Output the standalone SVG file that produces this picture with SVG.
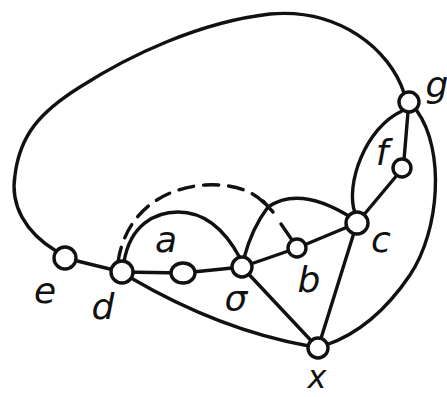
<svg xmlns="http://www.w3.org/2000/svg" width="447" height="397" viewBox="0 0 447 397">
<style>
.e{fill:none;stroke:#111;stroke-width:3.4;stroke-linecap:round;stroke-linejoin:round}
.d{stroke-dasharray:15 10}
.n{fill:#fff;stroke:#111;stroke-width:3.4}
.t{font-family:"DejaVu Sans",sans-serif;font-style:oblique;font-size:36px;fill:#111;text-anchor:middle}
</style>
<rect width="447" height="397" fill="#fff"/>
<g id="connectors">
<path class="e" d="M56 251 C25 232 10 205 15 175 C20 135 40 112 80 87 C130 55 200 22 270 14 C340 8 390 50 404 93"/>
<path class="e" d="M65 258 L122 272"/>
<path class="e" d="M122 272 L183 273 L242 267"/>
<path class="e" d="M242 267 L297 248 L357 223"/>
<path class="e" d="M124 262 C130 225 155 212 178 212 C205 212 225 230 240 258"/>
<path class="e d" d="M118 262 C125 215 160 188 205 185 C240 183 258 195 268 207"/>
<path class="e" d="M244 258 Q252 228 268 207 Q300 185 352 218"/>
<path class="e" d="M263 201 L273 212"/>
<path class="e" d="M281 224 L292 240"/>
<path class="e" d="M242 267 L318 348"/>
<path class="e" d="M131 278 Q220 330 309 346"/>
<path class="e" d="M357 223 L318 348"/>
<path class="e" d="M357 223 L403 168"/>
<path class="e" d="M404 160 L408 112"/>
<path class="e" d="M402 111 C365 128 345 185 355 213"/>
<path class="e" d="M417 111 C445 150 440 230 410 275 C385 312 355 335 326 345"/>
</g>
<g id="node-g"><circle class="n" cx="409" cy="102" r="10"/><text class="t" x="437" y="97">g</text></g>
<g id="node-f"><circle class="n" cx="402" cy="168" r="9"/><text class="t" x="382" y="165">f</text></g>
<g id="node-c"><circle class="n" cx="357" cy="223" r="11"/><text class="t" x="381" y="252">c</text></g>
<g id="node-b"><circle class="n" cx="297" cy="248" r="9"/><text class="t" x="309" y="292">b</text></g>
<g id="node-sigma"><circle class="n" cx="242" cy="267" r="10"/><text class="t" x="236" y="311">σ</text></g>
<g id="node-a"><ellipse class="n" cx="183" cy="273" rx="12" ry="10"/><text class="t" x="166" y="252">a</text></g>
<g id="node-d"><circle class="n" cx="122" cy="272" r="11"/><text class="t" x="103" y="319">d</text></g>
<g id="node-e"><circle class="n" cx="65" cy="258" r="11"/><text class="t" x="45" y="303">e</text></g>
<g id="node-x"><circle class="n" cx="318" cy="348" r="10"/><text class="t" x="317" y="388" style="font-size:32px">x</text></g>
</svg>
